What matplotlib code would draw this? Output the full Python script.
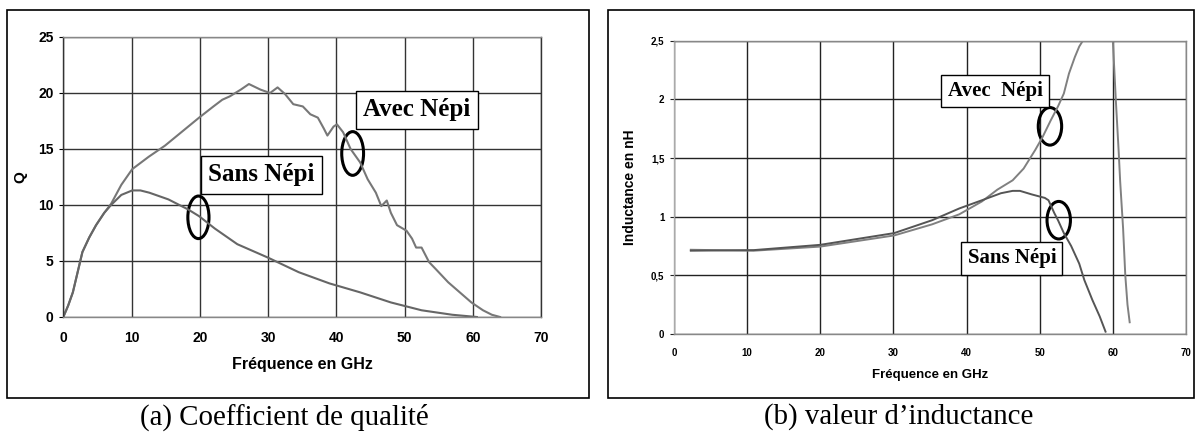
import numpy as np
import matplotlib
matplotlib.use('Agg')
from matplotlib import pyplot as plt
from matplotlib.patches import Ellipse, Rectangle

# (a) quality factor Q vs frequency (GHz)
q_avec_f = [0, 0.7, 1.4, 2.1, 2.8, 3.8, 4.8, 6.0, 7.0, 8.5, 10.1, 12.5, 14.9, 17.5, 19.9, 22.0,
            23.3, 24.4, 26.0, 27.2, 28.9, 30.3, 31.4, 32.5, 33.7,
            35.1, 36.2, 37.3, 38.2, 38.7, 39.6, 40.1, 41.0, 42.1, 43.5, 44.6, 45.8, 46.6, 47.4, 48.0,
            48.9, 50.3, 51.1, 51.7, 52.5, 53.6, 54.7, 56.4, 58.1, 59.8, 61.5, 62.8, 64.0]
q_avec = [0, 1.0, 2.2, 4.0, 5.8, 7.1, 8.2, 9.3, 10.1, 11.8, 13.2, 14.3, 15.3, 16.6, 17.8, 18.8,
          19.4, 19.7, 20.3, 20.8, 20.3, 20.0, 20.5, 19.9, 19.0,
          18.8, 18.1, 17.8, 16.8, 16.2, 17.0, 17.2, 16.5, 15.0, 13.8, 12.3, 11.1, 9.9, 10.4, 9.3,
          8.2, 7.7, 7.0, 6.2, 6.2, 4.9, 4.2, 3.1, 2.2, 1.3, 0.6, 0.2, 0]
q_sans_f = [0, 0.7, 1.4, 2.1, 2.8, 3.8, 4.8, 6.0, 7.0, 8.5, 10.1, 11.3, 12.6, 14.0, 15.4, 18.3,
            19.9, 22.2, 25.5, 30.0, 34.5, 39.0, 43.5, 48.0, 52.5, 57.0, 60.6]
q_sans = [0, 1.0, 2.2, 4.0, 5.8, 7.1, 8.2, 9.3, 10.0, 10.9, 11.3, 11.3, 11.1, 10.8, 10.5, 9.6,
          9.0, 7.9, 6.5, 5.3, 4.0, 3.0, 2.2, 1.3, 0.6, 0.2, 0]

# (b) inductance in nH vs frequency (GHz)
l_avec_f = [2.3, 10.9, 20.0, 30.1, 35.3, 39.0, 42.1, 44.2, 46.3, 47.8, 49.4, 50.4, 51.5, 52.5,
            53.3, 54.0, 54.8, 55.4, 55.9, 56.3, np.nan, 59.95, 60.0, 60.4, 60.8, 61.0, 61.4, 61.7,
            62.0, 62.3]
l_avec = [0.718, 0.71, 0.745, 0.84, 0.935, 1.02, 1.13, 1.23, 1.31, 1.41, 1.57, 1.68, 1.82, 1.94,
          2.05, 2.22, 2.36, 2.45, 2.5, 2.6, np.nan, 2.6, 2.5, 2.0, 1.55, 1.3, 0.9, 0.5,
          0.25, 0.1]
l_sans_f = [2.3, 10.9, 20.0, 30.1, 35.3, 39.0, 42.1, 44.7, 46.3, 47.3, 48.9, 50.7, 51.2, 52.0,
            52.5, 53.3, 54.3, 55.4, 56.1, 57.2, 58.2, 59.0]
l_sans = [0.71, 0.715, 0.76, 0.86, 0.97, 1.07, 1.14, 1.20, 1.22, 1.22, 1.19, 1.16, 1.14, 1.03,
          0.97, 0.86, 0.75, 0.60, 0.46, 0.29, 0.15, 0.02]

W, H = 1197, 434
fig = plt.figure(figsize=(W / 100, H / 100), dpi=100)


def px_axes(x0, x1, y0, y1):
    return fig.add_axes([x0 / W, 1 - y1 / H, (x1 - x0) / W, (y1 - y0) / H])


def style(ax, grid_col):
    ax.grid(True, color=grid_col, lw=1.0)
    ax.set_axisbelow(True)
    for s in ax.spines.values():
        s.set_color('#888888')
        s.set_linewidth(1.0)


sans = 'Liberation Sans'
serif = 'Liberation Serif'

# ---- (a)
ax1 = px_axes(63.3, 541, 37, 317)
ax1.plot(q_avec_f, q_avec, color='#777777', lw=1.5)
ax1.plot(q_sans_f, q_sans, color='#666666', lw=1.5)
ax1.set_xlim(0, 70)
ax1.set_ylim(0, 25)
ax1.set_xticks(range(0, 71, 10))
ax1.set_yticks(range(0, 26, 5))
style(ax1, '#333333')
ax1.spines['left'].set_color('#333333')
ax1.spines['right'].set_color('#333333')
ax1.tick_params(axis='x', length=0, pad=10)
ax1.tick_params(axis='y', length=3, pad=4)
for t in ax1.get_xticklabels() + ax1.get_yticklabels():
    t.set_fontfamily(sans)
    t.set_fontweight('bold')
    t.set_fontsize(10)
ax1.set_xlabel('Fréquence en GHz', family=sans, fontsize=11.5, fontweight='bold', labelpad=9)
ax1.set_ylabel('Q', family=sans, fontsize=11, fontweight='bold', labelpad=8)

box = dict(boxstyle='square,pad=0.3', fc='white', ec='black', lw=1.0)
ax1.text(29.0, 12.7, 'Sans Népi', family=serif, fontweight='bold', fontsize=18,
         ha='center', va='center', bbox=box)
ax1.text(51.8, 18.5, 'Avec Népi', family=serif, fontweight='bold', fontsize=18,
         ha='center', va='center', bbox=box)
ax1.add_patch(Ellipse((19.8, 8.9), 3.1, 3.8, fill=False, ec='black', lw=2.2))
ax1.add_patch(Ellipse((42.4, 14.6), 3.2, 3.9, fill=False, ec='black', lw=2.2))

# ---- (b)
ax2 = px_axes(674, 1186, 40.7, 334)
ax2.plot(l_avec_f, l_avec, color='#808080', lw=1.4)
ax2.plot(l_sans_f, l_sans, color='#555555', lw=1.4)
ax2.set_xlim(0, 70)
ax2.set_ylim(0, 2.5)
ax2.set_xticks(range(0, 71, 10))
ax2.set_yticks([0, 0.5, 1, 1.5, 2, 2.5])
ax2.set_yticklabels(['0', '0,5', '1', '1,5', '2', '2,5'])
style(ax2, '#222222')
ax2.spines['left'].set_color('#aaaaaa')
ax2.tick_params(axis='x', length=0, pad=10)
ax2.tick_params(axis='y', length=3, pad=4, color='#222222')
for t in ax2.get_xticklabels() + ax2.get_yticklabels():
    t.set_fontfamily(sans)
    t.set_fontweight('bold')
    t.set_fontsize(7)
ax2.set_xlabel('Fréquence en GHz', family=sans, fontsize=9.5, fontweight='bold', labelpad=8)
ax2.set_ylabel('Inductance en nH', family=sans, fontsize=10, fontweight='bold', labelpad=10)

ax2.text(43.9, 2.07, 'Avec  Népi', family=serif, fontweight='bold', fontsize=15,
         ha='center', va='center', bbox=box)
ax2.text(46.2, 0.645, 'Sans Népi', family=serif, fontweight='bold', fontsize=15,
         ha='center', va='center', bbox=box)
ax2.add_patch(Ellipse((51.4, 1.77), 3.2, 0.32, fill=False, ec='black', lw=2.2))
ax2.add_patch(Ellipse((52.6, 0.97), 3.2, 0.32, fill=False, ec='black', lw=2.2))

# outer frames and captions
for x0, x1 in [(7, 589), (608, 1194)]:
    fig.add_artist(Rectangle((x0 / W, 1 - 398 / H), (x1 - x0) / W, 388 / H,
                             transform=fig.transFigure, fill=False, ec='black', lw=1.2))
fig.text(284 / W, 1 - 417 / H, '(a) Coefficient de qualité', family=serif, fontsize=20.8,
         ha='center', va='center')
fig.text(899 / W, 1 - 417 / H, '(b) valeur d\u2019inductance', family=serif, fontsize=20.8,
         ha='center', va='center')

fig.savefig('out.png', dpi=100)
